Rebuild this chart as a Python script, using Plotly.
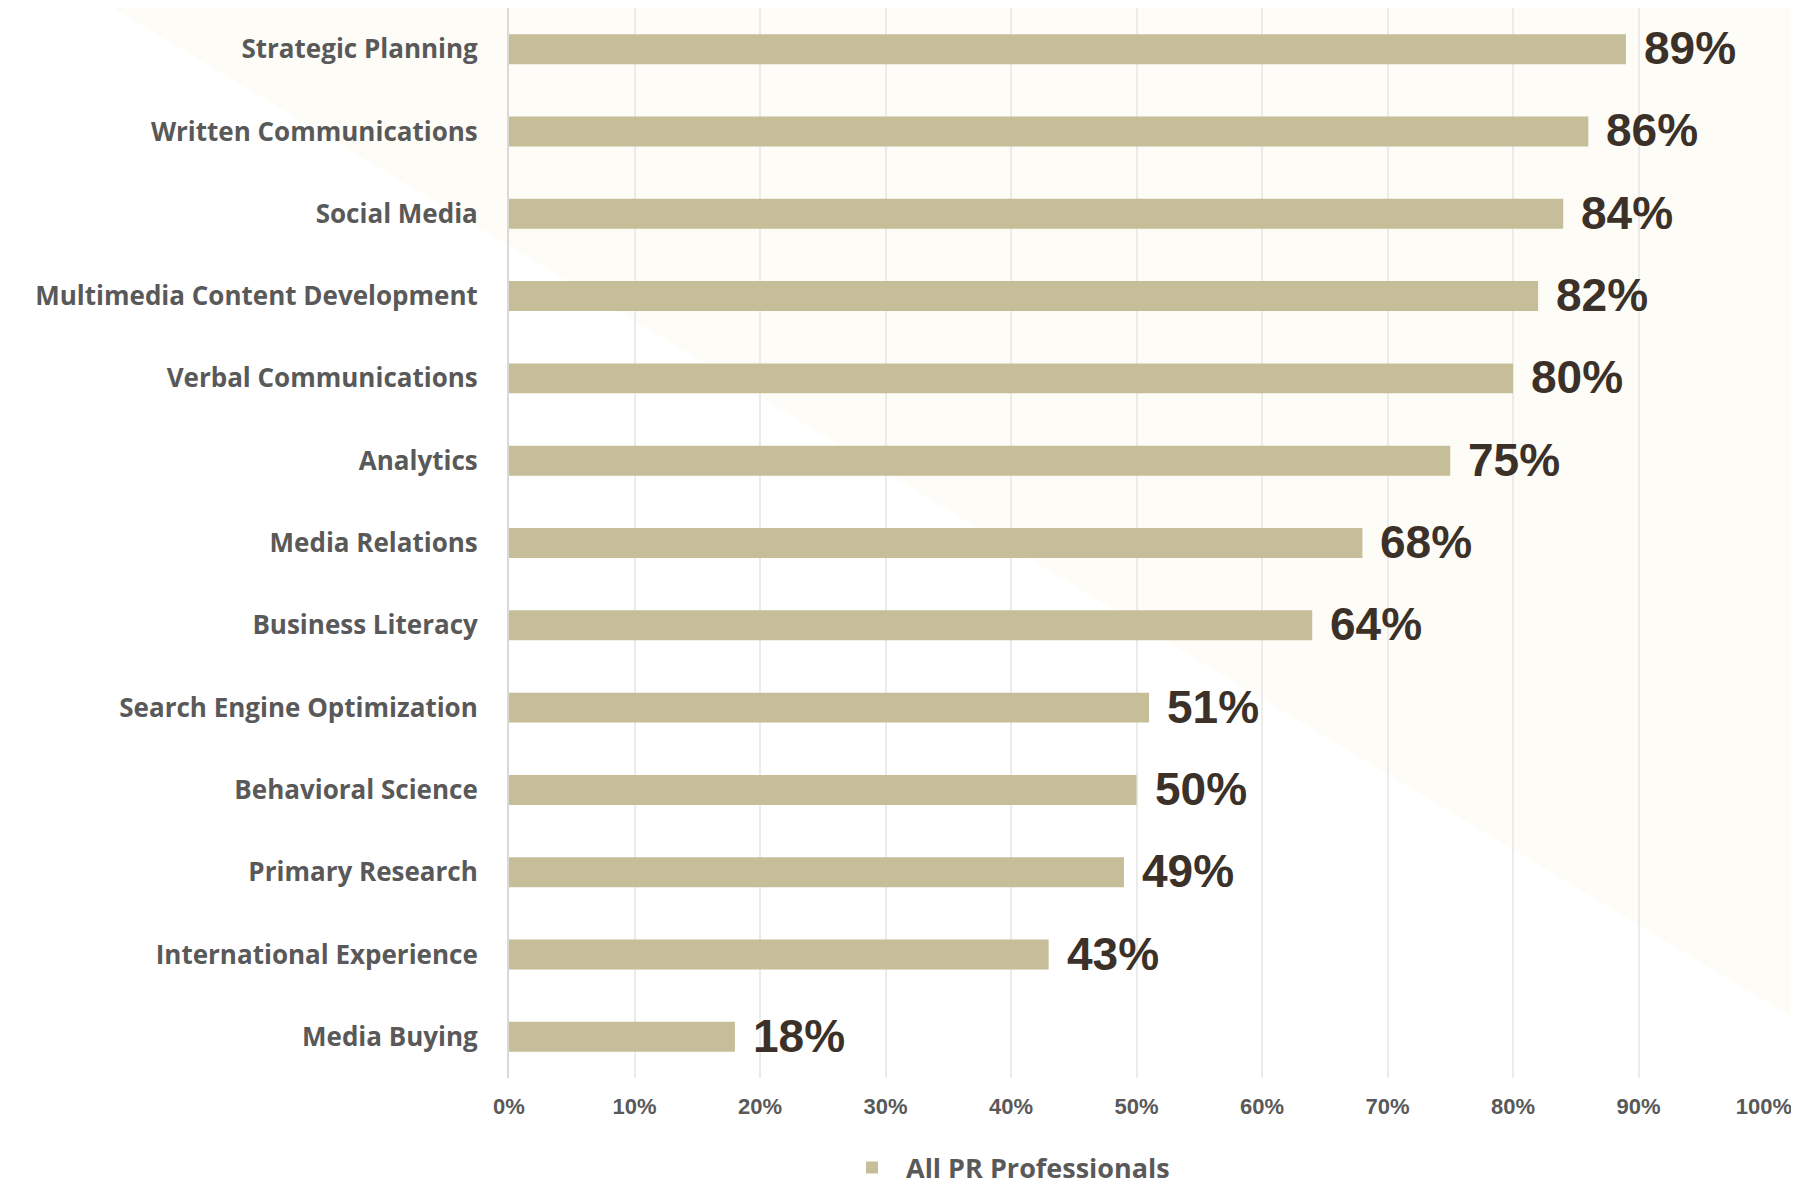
import plotly.graph_objects as go

categories = [
    "Strategic Planning",
    "Written Communications",
    "Social Media",
    "Multimedia Content Development",
    "Verbal Communications",
    "Analytics",
    "Media Relations",
    "Business Literacy",
    "Search Engine Optimization",
    "Behavioral Science",
    "Primary Research",
    "International Experience",
    "Media Buying",
]
values = [89, 86, 84, 82, 80, 75, 68, 64, 51, 50, 49, 43, 18]
series_name = "All PR Professionals"
tick_vals = [0, 10, 20, 30, 40, 50, 60, 70, 80, 90, 100]
tick_text = [f"{v}%" for v in tick_vals]

W, H = 1799, 1185
OFF = 8  # page body margin offset
ML, MR, MT, MB = 509 - OFF, 1799 - 1764 + OFF, 0, 1185 - 1078 + OFF
PW, PH = W - ML - MR, H - MT - MB

BAR = "#C6BE98"
CAT_FONT = "'Open Sans', Lato, sans-serif"

fig = go.Figure()
fig.add_trace(go.Bar(
    x=values, y=categories, orientation="h",
    marker=dict(color=BAR, line=dict(width=0)),
    name=series_name, showlegend=True,
))

for c, v in zip(categories, values):
    fig.add_annotation(
        x=v, y=c, xref="x", yref="y", text=f"{v}%",
        showarrow=False, xanchor="left", yanchor="middle", xshift=16, yshift=1,
        font=dict(family="'Liberation Sans', Arial, sans-serif", size=46, color="#3B3129",
                  weight="bold"),
    )

# cream diagonal background (page pixel coords -> paper)
def px2paper(px, py):
    fx, fy = px - OFF, py - OFF
    return (fx - ML) / PW, (H - MB - fy) / PH

p1 = px2paper(100, 0)
p2 = px2paper(1830, 0)
p3 = px2paper(1830, 1040)
fig.add_shape(
    type="path", xref="paper", yref="paper", layer="below",
    path=f"M {p1[0]},{p1[1]} L {p2[0]},{p2[1]} L {p3[0]},{p3[1]} Z",
    fillcolor="#FDFCF6", line=dict(width=0),
)

fig.update_layout(
    width=W, height=H,
    margin=dict(l=ML, r=MR, t=MT, b=MB, pad=0, autoexpand=False),
    paper_bgcolor="white", plot_bgcolor="rgba(0,0,0,0)",
    bargap=0.636,
    showlegend=True,
    legend=dict(
        orientation="h", x=(838 - OFF - ML) / PW, xanchor="left",
        y=-(1168 - OFF - (H - MB)) / PH, yanchor="middle",
        itemwidth=58,
        font=dict(family=CAT_FONT, size=27, color="#595959", weight="bold"),
        bgcolor="rgba(0,0,0,0)",
    ),
    xaxis=dict(
        range=[0, 100], tickvals=tick_vals, ticktext=tick_text,
        showgrid=True, gridcolor="#EBEBEB", gridwidth=2,
        zeroline=False, showline=False, automargin=False,
        ticks="outside", ticklen=9, tickcolor="rgba(0,0,0,0)",
        tickfont=dict(family="'Liberation Sans', Arial, sans-serif", size=22,
                      color="#595959", weight="bold"),
        fixedrange=True,
    ),
    yaxis=dict(
        autorange="reversed", showgrid=False, zeroline=False, automargin=False,
        showline=True, linecolor="#D9D9D9", linewidth=2,
        ticks="outside", ticklen=24, tickcolor="rgba(0,0,0,0)",
        tickfont=dict(family=CAT_FONT, size=26, color="#595959", weight="bold"),
    ),
)

fig.write_html("out.html")
